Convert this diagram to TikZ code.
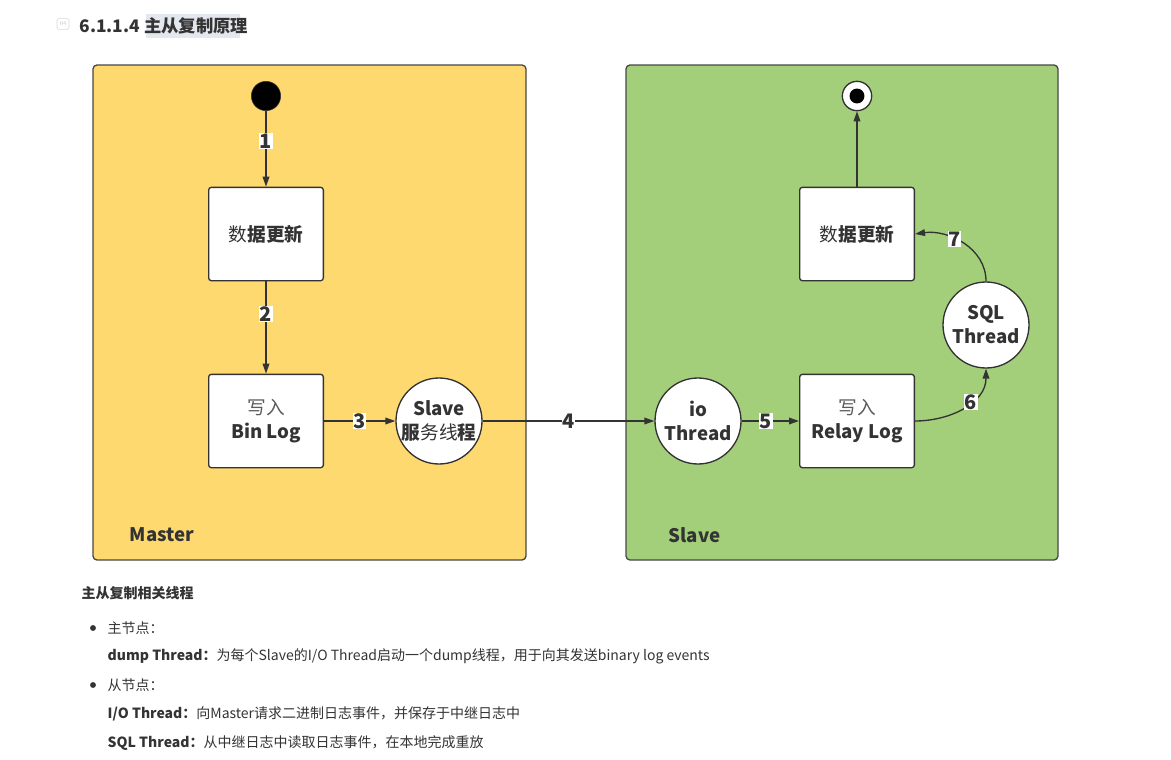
\documentclass[tikz,border=0pt]{standalone}
\usepackage{fontspec}
\setmainfont{Noto Sans CJK SC}
\usepackage{xcolor}
\usetikzlibrary{arrows.meta, positioning}
\definecolor{ink}{HTML}{333333}
\definecolor{mstfill}{HTML}{FDD970}
\definecolor{slvfill}{HTML}{A3CF7A}
\definecolor{hlgray}{HTML}{E3E8EE}
\tikzset{
  area/.style={draw=ink!90, line width=1pt, rounded corners=3pt},
  stbox/.style={rectangle, draw=ink, fill=white, line width=1pt, rounded corners=2pt,
                minimum width=86pt, minimum height=70pt, align=center, text=ink,
                font=\fontsize{14}{18}\selectfont},
  thr/.style={circle, draw=ink, fill=white, line width=1pt, inner sep=0pt,
              minimum size=64.5pt, align=center, text=ink,
              font=\fontsize{14}{18}\selectfont\bfseries},
  lbl/.style={fill=white, inner sep=0.5pt, text=ink, font=\fontsize{15}{15}\selectfont\bfseries},
  flow/.style={-{Triangle[length=7.5pt, width=5pt]}, draw=ink, line width=1pt},
  areaname/.style={text=ink, font=\fontsize{14}{14}\selectfont\bfseries, anchor=west},
  note/.style={text=ink, anchor=west, font=\fontsize{10.5}{12}\selectfont}
}
\begin{document}
\begin{tikzpicture}[x=0.75pt, y=-0.75pt]
  \useasboundingbox (0,0) rectangle (1171,760);
  % heading
  \node[draw=ink!20, rounded corners=1pt, minimum width=9pt, minimum height=8pt, inner sep=0pt,
        text=ink!25, font=\fontsize{4}{4}\selectfont] (hicon) at (63,24) {H4};
  \fill[hlgray] (146,14) rectangle (240,38);
  \node[note, font=\fontsize{13}{14}\selectfont\bfseries] (head) at (75,26) {6.1.1.4 主从复制原理};
  % two areas
  \filldraw[area, fill=mstfill] (93,65) rectangle (526,560);
  \filldraw[area, fill=slvfill] (626,65) rectangle (1058,560);
  \node[areaname] (mname) at (125,535) {Master};
  \node[areaname] (sname) at (664,535) {Slave};
  % master side
  \node[circle, fill=black, draw=ink, inner sep=0pt, minimum size=22pt] (ini) at (266,96) {};
  \node[stbox] (upm) at (266,234) {{\mdseries 数}\textbf{据更新}};
  \node[stbox] (bin) at (266,421) {{\color{ink!80}写入}\\\textbf{Bin Log}};
  \node[thr] (dmp) at (439,421) {Slave\\服{\mdseries 务线}程};
  % slave side
  \node[thr] (io) at (698,421) {io\\Thread};
  \node[stbox] (rly) at (857,421) {{\color{ink!80}写入}\\\textbf{Relay Log}};
  \node[thr] (sql) at (986,325) {SQL\\Thread};
  \node[stbox] (ups) at (857,234) {{\mdseries 数}\textbf{据更新}};
  \node[circle, draw=ink, fill=white, line width=1pt, inner sep=0pt, minimum size=22pt] (fin) at (857,96) {};
  \fill[black] (fin) circle (5.6pt);
  % connectors
  \draw[flow] (ini) -- node[lbl, pos=0.4] {1} (upm);
  \draw[flow] (upm) -- node[lbl, pos=0.35] {2} (bin);
  \draw[flow] (bin) -- node[lbl, pos=0.5] {3} (dmp);
  \draw[flow] (dmp) -- node[lbl, pos=0.5] {4} (io);
  \draw[flow] (io) -- node[lbl, pos=0.42] {5} (rly);
  \draw[flow] (rly.east) to[out=0, in=-90] node[lbl, pos=0.6] {6} (sql.south);
  \draw[flow] (sql.north) to[out=90, in=8] node[lbl, pos=0.6] {7} (ups.east);
  \draw[flow] (ups) -- (fin);
  % notes below
  \node[note, font=\fontsize{10.5}{12}\selectfont\bfseries] (ttl) at (77,593) {主从复制相关线程};
  \fill[ink] (93,628) circle (2.2pt);
  \node[note] (mst) at (103,628) {主节点：};
  \node[note] (dump) at (103,656) {\textbf{dump Thread：}为每个Slave的I/O Thread启动一个dump线程，用于向其发送binary log events};
  \fill[ink] (93,685) circle (2.2pt);
  \node[note] (slv) at (103,685) {从节点：};
  \node[note] (iot) at (103,714) {\textbf{I/O Thread：}向Master请求二进制日志事件，并保存于中继日志中};
  \node[note] (sqlt) at (103,743) {\textbf{SQL Thread：}从中继日志中读取日志事件，在本地完成重放};
\end{tikzpicture}
\end{document}
